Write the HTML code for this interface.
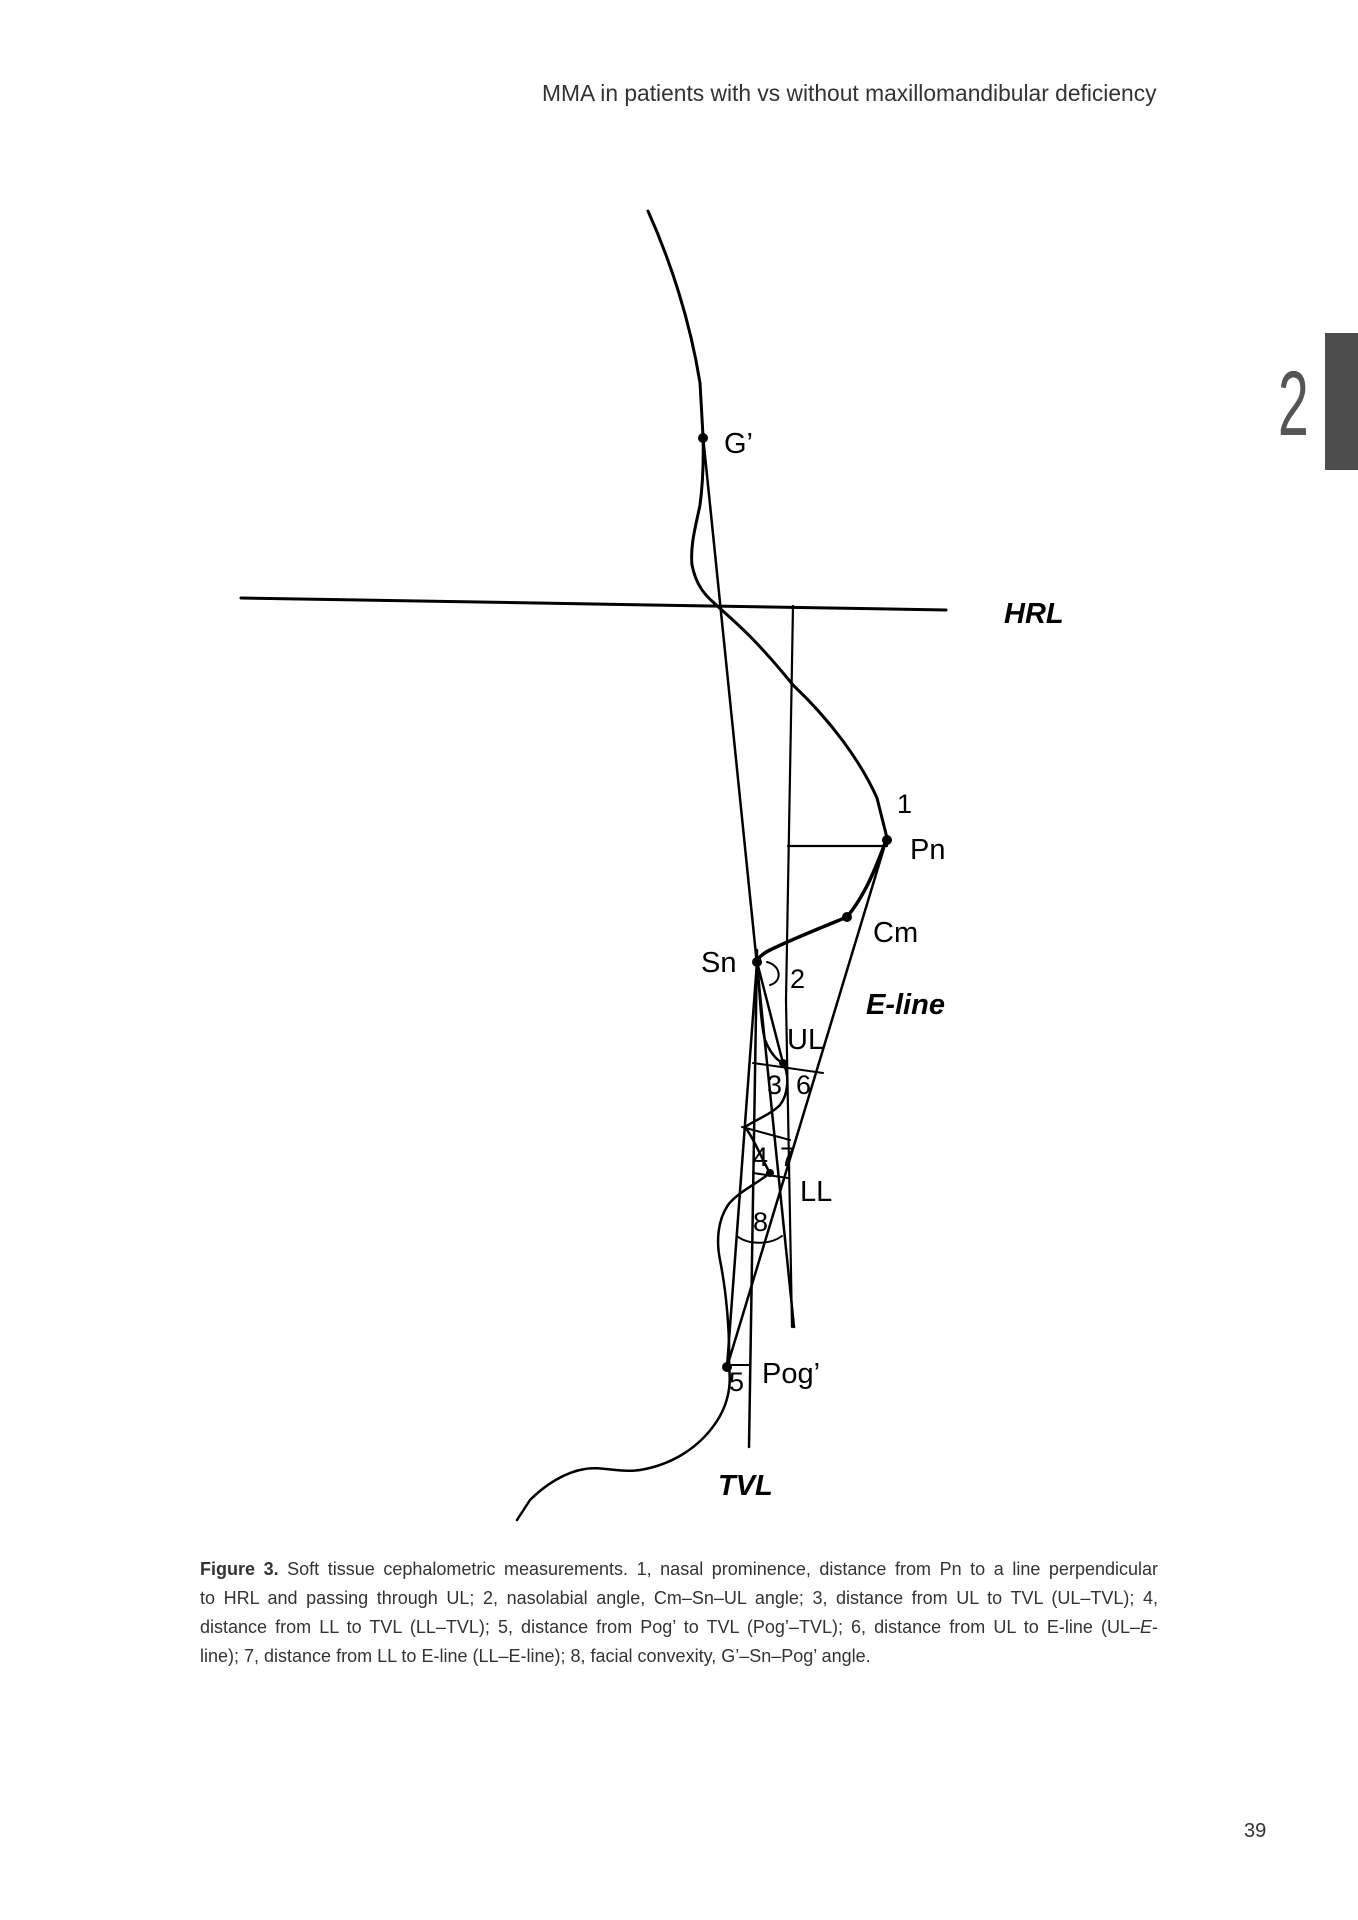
<!DOCTYPE html>
<html><head><meta charset="utf-8"><style>
html,body{margin:0;padding:0;background:#fff}
body{width:1358px;height:1920px;position:relative;overflow:hidden;font-family:"Liberation Sans",sans-serif}
.hdr{position:absolute;left:542px;top:80px;font-size:22.8px;color:#333;white-space:nowrap}
.tab{position:absolute;left:1325px;top:333px;width:33px;height:137px;background:#4d4d4d}
.two{position:absolute;left:1278px;top:358px;font-size:92px;font-weight:100;color:#555;line-height:1;transform:scaleX(0.6);transform-origin:left top}
.cap{position:absolute;left:200px;top:1555px;width:958px;font-family:"Liberation Sans Narrow","Liberation Sans",sans-serif;font-size:18px;color:#333;line-height:29px}
.cap div{white-space:nowrap;text-align:justify;text-align-last:justify}
.cap div.l{text-align-last:left}
.pg{position:absolute;left:1244px;top:1820px;font-size:20px;color:#333}
</style></head><body>
<div class="hdr">MMA in patients with vs without maxillomandibular deficiency</div>
<div class="tab"></div>
<div class="two">2</div>
<svg width="1358" height="1920" style="position:absolute;left:0;top:0" font-family="Liberation Sans, sans-serif">
<g fill="none" stroke="#000" stroke-width="2.5" stroke-linecap="round" stroke-linejoin="round">
<path d="M648,211 C670,260 690,320 700,383 L703,436 C704,470 702,490 700,505 C696,525 690,545 692,565 C696,585 705,595 713,602 C730,618 750,632 793,685 C830,720 860,760 877,798 L887,838" stroke-width="3"/>
<path d="M887,838 C875,870 865,895 847,917 C820,928 790,940 770,950 C760,955 757,960 757,962" stroke-width="3.5"/>
<path d="M757,962 C760,990 760,1020 765,1040 C770,1052 776,1060 783,1063 C790,1075 788,1095 780,1105 C770,1115 755,1120 745,1127 C755,1140 762,1160 770,1173 C755,1185 738,1192 728,1205 C718,1220 716,1240 720,1260 C726,1290 730,1330 729,1367"/>
<path d="M729,1367 C732,1390 726,1410 712,1428 C695,1450 670,1465 640,1470 C620,1473 600,1466 585,1469 C565,1472 545,1485 530,1500 L517,1520"/>
<line x1="241" y1="598" x2="946" y2="610" stroke-width="3"/>
<line x1="703" y1="436" x2="794" y2="1327"/>
<polyline points="793,606 786,1000 792,1327" stroke-width="2.2"/>
<line x1="788" y1="846" x2="887" y2="846" stroke-width="2.2"/>
<line x1="887" y1="838" x2="727" y2="1367"/>
<line x1="757" y1="950" x2="749" y2="1447"/>
<line x1="757" y1="962" x2="727" y2="1367"/>
<line x1="757" y1="962" x2="783" y2="1063"/>
<line x1="753" y1="1063" x2="823" y2="1073" stroke-width="2"/>
<line x1="742" y1="1127" x2="790" y2="1140" stroke-width="2"/>
<line x1="753" y1="1173" x2="788" y2="1178" stroke-width="2"/>
<line x1="727" y1="1365" x2="750" y2="1365" stroke-width="2"/>
<path d="M767,962 C782,966 782,982 770,985" stroke-width="2"/>
<path d="M737,1236 C748,1245 770,1245 782,1236" stroke-width="2"/>
</g>
<g fill="#000">
<circle cx="703" cy="438" r="5"/>
<circle cx="887" cy="840" r="5"/>
<circle cx="847" cy="917" r="5"/>
<circle cx="757" cy="962" r="5"/>
<circle cx="783" cy="1063" r="4"/>
<circle cx="770" cy="1173" r="4"/>
<circle cx="727" cy="1367" r="5"/>
</g>
<g font-size="29" fill="#000">
<text x="724" y="453">G’</text>
<text x="897" y="813" font-size="27">1</text>
<text x="910" y="859">Pn</text>
<text x="873" y="942">Cm</text>
<text x="701" y="972">Sn</text>
<text x="790" y="988" font-size="27">2</text>
<text x="787" y="1049">UL</text>
<text x="767" y="1094" font-size="27">3</text>
<text x="796" y="1094" font-size="27">6</text>
<text x="753" y="1166" font-size="27">4</text>
<text x="780" y="1166" font-size="27">7</text>
<text x="800" y="1201">LL</text>
<text x="753" y="1231" font-size="27">8</text>
<text x="729" y="1391" font-size="27">5</text>
<text x="762" y="1383">Pog’</text>
<text x="1004" y="623" font-weight="bold" font-style="italic">HRL</text>
<text x="866" y="1014" font-weight="bold" font-style="italic">E-line</text>
<text x="718" y="1495" font-weight="bold" font-style="italic">TVL</text>
</g>
</svg>
<div class="cap">
<div><b>Figure 3.</b> Soft tissue cephalometric measurements. 1, nasal prominence, distance from Pn to a line perpendicular</div>
<div>to HRL and passing through UL; 2, nasolabial angle, Cm–Sn–UL angle; 3, distance from UL to TVL (UL–TVL); 4,</div>
<div>distance from LL to TVL (LL–TVL); 5, distance from Pog’ to TVL (Pog’–TVL); 6, distance from UL to E-line (UL–<i>E</i>-</div>
<div class="l">line); 7, distance from LL to E-line (LL–E-line); 8, facial convexity, G’–Sn–Pog’ angle.</div>
</div>
<div class="pg">39</div>
</body></html>
